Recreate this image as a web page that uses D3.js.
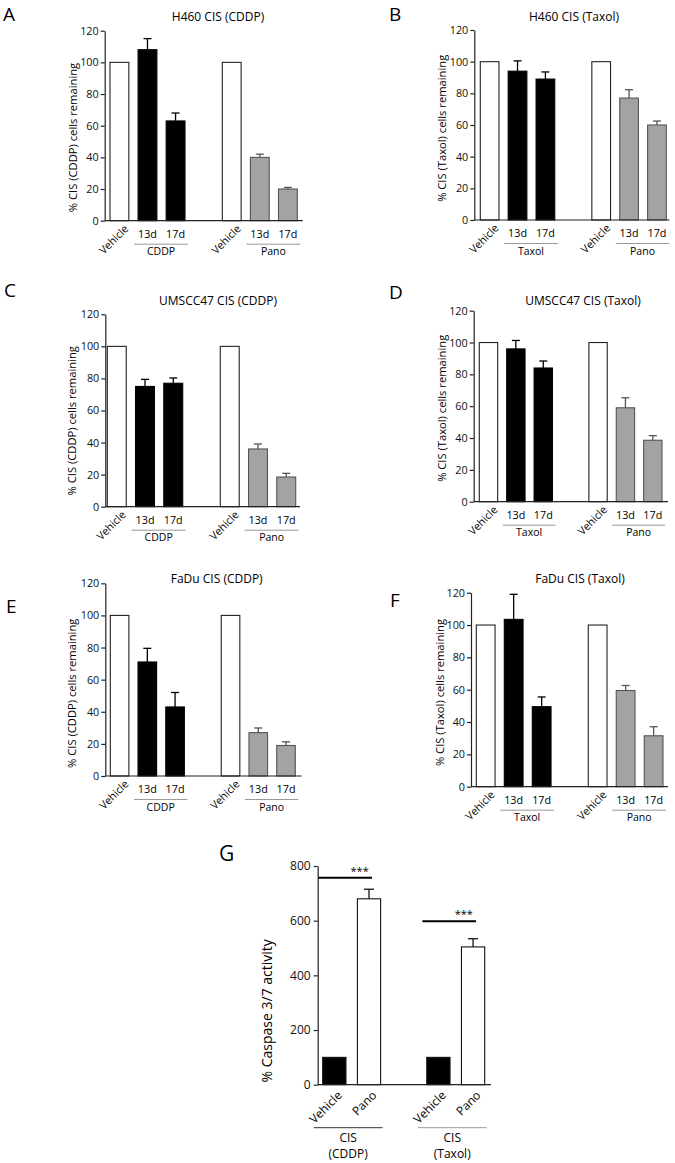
<!DOCTYPE html>
<html><head><meta charset="utf-8">
<script src="https://cdn.jsdelivr.net/npm/d3@7"></script>
<style>
html,body{margin:0;padding:0;background:#fff;}
svg{display:block;font-family:"Open Sans",sans-serif;}
</style></head>
<body>
<svg id="chart" width="675" height="1163"></svg>
<script>
// ---------- DATA ----------
const categories = ["Vehicle", "13d", "17d", "Vehicle", "13d", "17d"];
const yTicks = [0, 20, 40, 60, 80, 100, 120];

const titleA = "H460 CIS (CDDP)",    groupsA = ["CDDP", "Pano"];
const valuesA = [100, 108, 63, 100, 40, 20];
const errA    = [0, 7, 5, 0, 2, 1];

const titleB = "H460 CIS (Taxol)",   groupsB = ["Taxol", "Pano"];
const valuesB = [100, 94, 89, 100, 77, 60];
const errB    = [0, 6.5, 4.5, 0, 5.3, 2.5];

const titleC = "UMSCC47 CIS (CDDP)", groupsC = ["CDDP", "Pano"];
const valuesC = [100, 75, 77, 100, 36, 18.5];
const errC    = [0, 4.4, 3.3, 0, 3.1, 2.3];

const titleD = "UMSCC47 CIS (Taxol)", groupsD = ["Taxol", "Pano"];
const valuesD = [100, 96, 84, 100, 59, 38.6];
const errD    = [0, 5.3, 4.4, 0, 6.3, 2.9];

const titleE = "FaDu CIS (CDDP)",    groupsE = ["CDDP", "Pano"];
const valuesE = [100, 71, 43, 100, 27, 19];
const errE    = [0, 8.5, 9, 0, 2.9, 2.3];

const titleF = "FaDu CIS (Taxol)",   groupsF = ["Taxol", "Pano"];
const valuesF = [100, 103.5, 49.5, 100, 59.5, 31.5];
const errF    = [0, 15.5, 6, 0, 3.1, 5.6];

const categoriesG = ["Vehicle", "Pano", "Vehicle", "Pano"];
const groupsG = [["CIS", "(CDDP)"], ["CIS", "(Taxol)"]];
const valuesG = [100, 680, 100, 504];
const errG    = [0, 35, 0, 30];
const yTicksG = [0, 200, 400, 600, 800];
const sigG = ["***", "***"];

// ---------- LAYOUT ----------
const svg = d3.select("#chart");
const slots = ["s0", "s1", "s2", "gap", "s3", "s4", "s5"];
const fills = ["#fff", "#000", "#000", "#fff", "#a3a3a3", "#a3a3a3"];
const strokes = ["#222", "#000", "#000", "#222", "#555", "#555"];

function panel(cfg) {
  const g = svg.append("g");
  const y = d3.scaleLinear().domain([0, 120]).range([cfg.y0, cfg.yTop]);
  const x = d3.scaleBand().domain(slots).range([cfg.barL, cfg.barR]).paddingInner(0.33).paddingOuter(0);
  const slotOf = i => slots.filter(s => s !== "gap")[i];

  // letter & title
  g.append("text").attr("x", cfg.letterX).attr("y", cfg.letterY).attr("font-size", 19).text(cfg.letter);
  g.append("text").attr("x", cfg.titleX).attr("y", cfg.titleY).attr("font-size", 12)
    .attr("text-anchor", "middle").text(cfg.title);

  // bars
  cfg.values.forEach((v, i) => {
    const bx = x(slotOf(i)), bw = x.bandwidth();
    g.append("rect").attr("x", bx).attr("y", y(v)).attr("width", bw).attr("height", y(0) - y(v))
      .attr("fill", fills[i]).attr("stroke", strokes[i]).attr("stroke-width", 1.1);
    if (cfg.err[i] > 0) {
      const cx = bx + bw / 2;
      g.append("line").attr("x1", cx).attr("x2", cx).attr("y1", y(v)).attr("y2", y(v + cfg.err[i]))
        .attr("stroke", strokes[i]).attr("stroke-width", 1.3);
      g.append("line").attr("x1", cx - 4).attr("x2", cx + 4).attr("y1", y(v + cfg.err[i])).attr("y2", y(v + cfg.err[i]))
        .attr("stroke", strokes[i]).attr("stroke-width", 1.3);
    }
  });

  // axes
  const ax = g.append("g").attr("transform", `translate(${cfg.axisX},0)`)
    .call(d3.axisLeft(y).tickValues(yTicks).tickSize(4).tickSizeOuter(0).tickPadding(2));
  ax.selectAll("text").attr("font-size", 10.8).attr("font-family", "Open Sans").attr("fill", "#111");
  ax.selectAll("path,line").attr("stroke", "#222").attr("stroke-width", 1.2);
  g.append("line").attr("x1", cfg.axisX).attr("x2", cfg.axisEnd).attr("y1", cfg.y0).attr("y2", cfg.y0)
    .attr("stroke", "#222").attr("stroke-width", 1.2);

  // y label
  g.append("text").attr("transform", `translate(${cfg.ylabX},${cfg.ylabY}) rotate(-90)`)
    .attr("text-anchor", "middle").attr("font-size", 11.2).text(cfg.ylabel);

  // x labels
  categories.forEach((c, i) => {
    const cx = x(slotOf(i)) + x.bandwidth() / 2;
    if (c === "Vehicle") {
      g.append("text").attr("transform", `translate(${cx + 4},${cfg.y0 + 3}) rotate(-45)`)
        .attr("text-anchor", "end").attr("dy", "0.75em").attr("font-size", 10.8).text(c);
    } else {
      g.append("text").attr("x", cx).attr("y", cfg.y0 + 17).attr("text-anchor", "middle")
        .attr("font-size", 10.8).text(c);
    }
  });
  // group underlines
  [[1, 2], [4, 5]].forEach((p, k) => {
    const l = x(slotOf(p[0])) - 4, r = x(slotOf(p[1])) + x.bandwidth() + 3;
    g.append("line").attr("x1", l).attr("x2", r).attr("y1", cfg.y0 + 23.5).attr("y2", cfg.y0 + 23.5)
      .attr("stroke", "#999").attr("stroke-width", 1);
    g.append("text").attr("x", (l + r) / 2).attr("y", cfg.y0 + 34.5).attr("text-anchor", "middle")
      .attr("font-size", 10.5).text(cfg.groups[k]);
  });
}

panel({letter: "A", letterX: 3, letterY: 20.5, title: titleA, titleX: 218, titleY: 20.5,
  axisX: 104.7, yTop: 30.7, y0: 220.7, barL: 110, barR: 297.3, axisEnd: 302.7,
  ylabX: 77, ylabY: 137.5, ylabel: "% CIS (CDDP) cells remaining",
  values: valuesA, err: errA, groups: groupsA});
panel({letter: "B", letterX: 389, letterY: 20.5, title: titleB, titleX: 574, titleY: 20.5,
  axisX: 474.3, yTop: 30, y0: 220, barL: 480.3, barR: 666.3, axisEnd: 669.5,
  ylabX: 446, ylabY: 128.3, ylabel: "% CIS (Taxol) cells remaining",
  values: valuesB, err: errB, groups: groupsB});
panel({letter: "C", letterX: 4, letterY: 296.7, title: titleC, titleX: 218, titleY: 305,
  axisX: 105.3, yTop: 314.3, y0: 506.7, barL: 107.3, barR: 295.7, axisEnd: 300,
  ylabX: 75.5, ylabY: 420.8, ylabel: "% CIS (CDDP) cells remaining",
  values: valuesC, err: errC, groups: groupsC});
panel({letter: "D", letterX: 389, letterY: 299.3, title: titleD, titleX: 583, titleY: 305,
  axisX: 473.7, yTop: 310.7, y0: 501.7, barL: 479.3, barR: 662, axisEnd: 668,
  ylabX: 445.5, ylabY: 408.3, ylabel: "% CIS (Taxol) cells remaining",
  values: valuesD, err: errD, groups: groupsD});
panel({letter: "E", letterX: 6, letterY: 613.3, title: titleE, titleX: 216.7, titleY: 582.7,
  axisX: 105.3, yTop: 583.3, y0: 776, barL: 110.3, barR: 295.3, axisEnd: 301.7,
  ylabX: 75.5, ylabY: 693.3, ylabel: "% CIS (CDDP) cells remaining",
  values: valuesE, err: errE, groups: groupsE});
panel({letter: "F", letterX: 390, letterY: 607.3, title: titleF, titleX: 580, titleY: 583,
  axisX: 471, yTop: 592.7, y0: 786.7, barL: 476.3, barR: 663, axisEnd: 668,
  ylabX: 444, ylabY: 692.5, ylabel: "% CIS (Taxol) cells remaining",
  values: valuesF, err: errF, groups: groupsF});

// ---------- PANEL G ----------
(function () {
  const g = svg.append("g");
  const axisX = 317.7, y0 = 1084.7, yTop = 866, axisEnd = 491;
  const y = d3.scaleLinear().domain([0, 800]).range([y0, yTop]);
  const slotsG = ["a", "b", "gap", "c", "d"];
  const used = ["a", "b", "c", "d"];
  const x = d3.scaleBand().domain(slotsG).range([322.7, 484.7]).paddingInner(0.33).paddingOuter(0);
  const fillG = ["#000", "#fff", "#000", "#fff"];

  g.append("text").attr("x", 219).attr("y", 861).attr("font-size", 21).text("G");

  valuesG.forEach((v, i) => {
    const bx = x(used[i]), bw = x.bandwidth();
    g.append("rect").attr("x", bx).attr("y", y(v)).attr("width", bw).attr("height", y(0) - y(v))
      .attr("fill", fillG[i]).attr("stroke", "#111").attr("stroke-width", 1.1);
    if (errG[i] > 0) {
      const cx = bx + bw / 2;
      g.append("line").attr("x1", cx).attr("x2", cx).attr("y1", y(v)).attr("y2", y(v + errG[i]))
        .attr("stroke", "#111").attr("stroke-width", 1.3);
      g.append("line").attr("x1", cx - 5).attr("x2", cx + 5).attr("y1", y(v + errG[i])).attr("y2", y(v + errG[i]))
        .attr("stroke", "#111").attr("stroke-width", 1.3);
    }
  });

  const ax = g.append("g").attr("transform", `translate(${axisX},0)`)
    .call(d3.axisLeft(y).tickValues(yTicksG).tickSize(4).tickSizeOuter(0).tickPadding(3));
  ax.selectAll("text").attr("font-size", 12).attr("font-family", "Open Sans").attr("fill", "#111");
  ax.selectAll("path,line").attr("stroke", "#222").attr("stroke-width", 1.2);
  g.append("line").attr("x1", axisX).attr("x2", axisEnd).attr("y1", y0).attr("y2", y0)
    .attr("stroke", "#222").attr("stroke-width", 1.2);

  g.append("text").attr("transform", `translate(272,1010.8) rotate(-90)`)
    .attr("text-anchor", "middle").attr("font-size", 14).text("% Caspase 3/7 activity");

  categoriesG.forEach((c, i) => {
    const cx = x(used[i]) + x.bandwidth() / 2;
    g.append("text").attr("transform", `translate(${cx + 2},${y0 + 5}) rotate(-45)`)
      .attr("text-anchor", "end").attr("dy", "0.75em").attr("font-size", 12).text(c);
  });

  // significance bars
  const sigOffsets = [11.5, 17.5];
  [[0, 1], [2, 3]].forEach((p, k) => {
    const c0 = x(used[p[0]]) + x.bandwidth() / 2, c1 = x(used[p[1]]) + x.bandwidth() / 2;
    const top = Math.max(valuesG[p[0]] + errG[p[0]], valuesG[p[1]] + errG[p[1]]);
    const ly = y(top) - sigOffsets[k];
    g.append("line").attr("x1", c0 - 16).attr("x2", c1 + 3).attr("y1", ly).attr("y2", ly)
      .attr("stroke", "#000").attr("stroke-width", 2);
    g.append("text").attr("x", (c0 + c1) / 2 + 8).attr("y", ly - 3).attr("text-anchor", "middle")
      .attr("font-size", 11).text(sigG[k]);
  });

  // group underlines and labels
  [[0, 1], [2, 3]].forEach((p, k) => {
    const l = x(used[p[0]]) - 9, r = x(used[p[1]]) + x.bandwidth() + 2;
    g.append("line").attr("x1", l).attr("x2", r).attr("y1", y0 + 43).attr("y2", y0 + 43)
      .attr("stroke", k === 0 ? "#333" : "#999").attr("stroke-width", 1);
    g.append("text").attr("x", (l + r) / 2).attr("y", y0 + 57).attr("text-anchor", "middle")
      .attr("font-size", 12).text(groupsG[k][0]);
    g.append("text").attr("x", (l + r) / 2).attr("y", y0 + 73).attr("text-anchor", "middle")
      .attr("font-size", 12).text(groupsG[k][1]);
  });
})();
</script>
</body></html>
